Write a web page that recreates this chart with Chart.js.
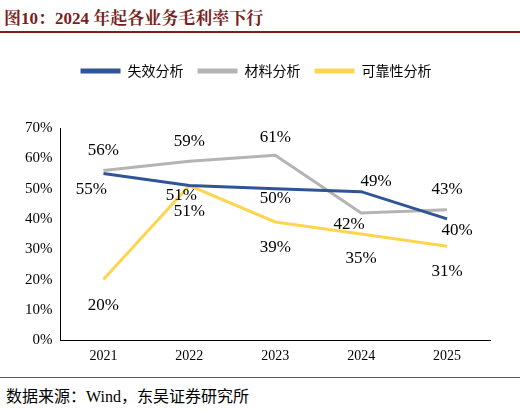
<!DOCTYPE html>
<html><head><meta charset="utf-8">
<script src="https://cdn.jsdelivr.net/npm/chart.js@4"></script>
<style>
body{margin:0;width:520px;height:413px;background:#fff;position:relative;font-family:"Liberation Serif","Noto Sans CJK SC",serif;overflow:hidden}
#title{position:absolute;left:4px;top:4px;font-size:17px;font-weight:bold;color:#7a1f1f;font-family:"Liberation Serif","Noto Serif CJK SC","Noto Sans CJK SC",serif}
#tl{position:absolute;left:0;top:31px;width:520px;height:2px;background:#8b1a1a}
#fl{position:absolute;left:0;top:377px;width:520px;height:1px;background:#555}
#foot{position:absolute;left:6px;top:383px;font-size:16px;color:#000;font-family:"Liberation Serif","Noto Sans CJK SC",serif}
#wrap{position:absolute;left:0;top:40px;width:520px;height:328px}
</style></head><body>
<div id="title">图10：2024 年起各业务毛利率下行</div>
<div id="tl"></div>
<div id="wrap"><canvas id="c"></canvas></div>
<div id="fl"></div>
<div id="foot">数据来源：Wind，东吴证券研究所</div>
<script>
const categories=["2021","2022","2023","2024","2025"];
const failure=[55,51,50,49,40];
const material=[56,59,61,42,43];
const reliability=[20,51,39,35,31];
const yTicks=[0,10,20,30,40,50,60,70];
const offs=[
 [[-12,16],[-8,10],[0,10],[15,-10],[10,12]],
 [[0,-20],[0,-20],[0,-18],[-12,12],[0,-20]],
 [[0,26],[0,26],[0,26],[0,24],[0,25]]
];
const labelPlugin={id:'lbl',afterDatasetsDraw(ch){
 const ctx=ch.ctx;ctx.save();ctx.font='17px "Liberation Serif"';ctx.fillStyle='#000';ctx.textAlign='center';ctx.textBaseline='middle';
 ch.data.datasets.forEach((ds,i)=>{ch.getDatasetMeta(i).data.forEach((p,j)=>{ctx.fillText(ds.data[j]+'%',p.x+offs[i][j][0],p.y+offs[i][j][1]);});});
 ctx.restore();}};
new Chart(document.getElementById('c'),{type:'line',
data:{labels:categories,datasets:[
 {label:'失效分析',data:failure,borderColor:'#2f5597',backgroundColor:'#2f5597',borderWidth:3,pointRadius:0,tension:0},
 {label:'材料分析',data:material,borderColor:'#b4b4b4',backgroundColor:'#b4b4b4',borderWidth:3,pointRadius:0,tension:0},
 {label:'可靠性分析',data:reliability,borderColor:'#ffd54f',backgroundColor:'#ffd54f',borderWidth:3,pointRadius:0,tension:0}]},
options:{responsive:true,maintainAspectRatio:false,animation:false,
 layout:{padding:{left:22,right:30,top:10,bottom:0}},
 plugins:{tooltip:{enabled:false},legend:{position:'top',align:'center',labels:{boxWidth:40,boxHeight:5,padding:14,color:'#000',font:{size:14,family:'"Noto Sans CJK SC"'},
  generateLabels:(ch)=>ch.data.datasets.map((d,i)=>({text:d.label,fillStyle:d.borderColor,strokeStyle:d.borderColor,lineWidth:0,datasetIndex:i}))},
  onClick:null}},
 scales:{
  x:{offset:true,grid:{display:false,drawTicks:true,tickLength:5},border:{color:'#000'},ticks:{color:'#000',font:{size:14,family:'"Liberation Serif"'}}},
  y:{min:0,max:70,afterBuildTicks:(a)=>{a.ticks=yTicks.map(v=>({value:v}));},grid:{display:false,drawTicks:true,tickLength:5},border:{color:'#000'},ticks:{color:'#000',font:{size:15,family:'"Liberation Serif"'},callback:v=>v+'%'}}
 }},
plugins:[labelPlugin,{id:'legpad',beforeInit(ch){const f=ch.legend.fit;ch.legend.fit=function(){f.bind(ch.legend)();this.height+=40;};}}]
});
</script></body></html>
